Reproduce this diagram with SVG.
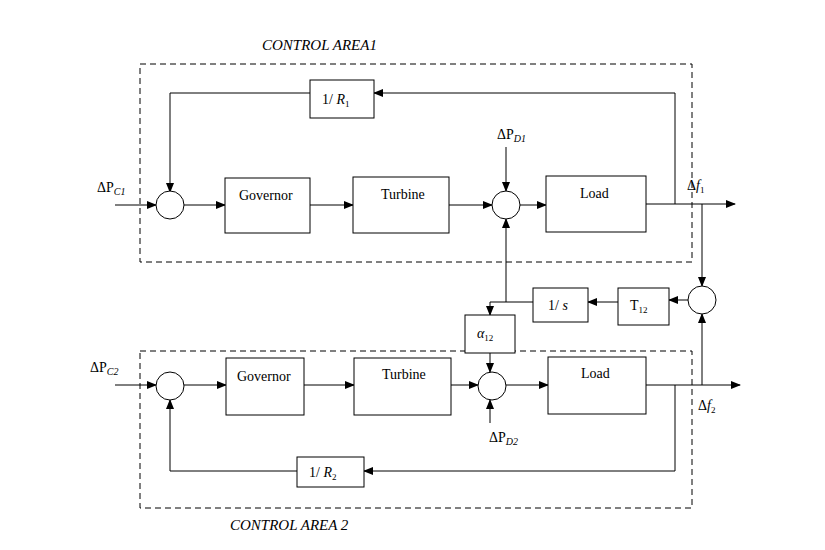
<svg xmlns="http://www.w3.org/2000/svg" width="825" height="550" viewBox="0 0 825 550">
<style>
.b{fill:#fff;stroke:#000;stroke-width:1}
.c{fill:#fff;stroke:#000;stroke-width:1}
.l{fill:none;stroke:#000;stroke-width:1;marker-end:url(#a)}
.d{fill:none;stroke:#000;stroke-width:1;stroke-dasharray:6,4}
text{font-family:"Liberation Serif",serif;font-size:14px;fill:#000}
.i{font-style:italic}
.t{font-size:15px}
</style>
<defs><marker id="a" markerWidth="10" markerHeight="8" refX="9" refY="4" orient="auto" markerUnits="userSpaceOnUse"><path d="M0,0L10,4L0,8z" fill="#000"/></marker></defs>
<rect class="d" x="140" y="64" width="552" height="198"/>
<rect class="d" x="140" y="351" width="552" height="157"/>
<text class="i t" x="262" y="50">CONTROL AREA1</text>
<text class="i t" x="230" y="530">CONTROL AREA 2</text>
<g id="connectors">
<path class="l" d="M115,205H156"/>
<path class="l" d="M184,205H225"/>
<path class="l" d="M310,205H353"/>
<path class="l" d="M449,205H492"/>
<path class="l" d="M520,205H546"/>
<path class="l" d="M646,204H735"/>
<path class="l" d="M675,204V93H374"/>
<path class="l" d="M310,93H170V192"/>
<path class="l" d="M506,147V191"/>
<path class="l" d="M702,204V286"/>
<path class="l" d="M688,300H669"/>
<path class="l" d="M618,302H588"/>
<path class="l" d="M506,302V219"/>
<path class="l" d="M533,302H490V315"/>
<path class="l" d="M490,353V372"/>
<path class="l" d="M115,385H156"/>
<path class="l" d="M184,385H226"/>
<path class="l" d="M304,385H354"/>
<path class="l" d="M451,385H478"/>
<path class="l" d="M506,385H548"/>
<path class="l" d="M646,385H740"/>
<path class="l" d="M675,385V471H364"/>
<path class="l" d="M297,471H170V400"/>
<path class="l" d="M490,423V400"/>
<path class="l" d="M702,385V314"/>
</g>
<g id="sum1"><circle class="c" cx="170" cy="205" r="14"/></g>
<g id="gov1"><rect class="b" x="225" y="178" width="85" height="55"/><text x="239" y="200">Governor</text></g>
<g id="tur1"><rect class="b" x="353" y="177" width="96" height="56"/><text x="381" y="199">Turbine</text></g>
<g id="sum2"><circle class="c" cx="506" cy="205" r="14"/></g>
<g id="load1"><rect class="b" x="546" y="176" width="100" height="56"/><text x="580" y="198">Load</text></g>
<g id="r1"><rect class="b" x="310" y="80" width="64" height="38"/><text x="322" y="104">1/ <tspan class="i">R</tspan><tspan font-size="9" dy="3">1</tspan></text></g>
<text x="497" y="139">ΔP<tspan class="i" font-size="10" dy="3">D1</tspan></text>
<text x="97" y="192">ΔP<tspan class="i" font-size="10" dy="3">C1</tspan></text>
<text x="687" y="190">Δ<tspan class="i">f</tspan><tspan font-size="9" dy="3">1</tspan></text>
<g id="sum3"><circle class="c" cx="702" cy="300" r="14"/></g>
<g id="t12"><rect class="b" x="618" y="288" width="51" height="37"/><text x="630" y="310">T<tspan font-size="9" dy="3">12</tspan></text></g>
<g id="integ"><rect class="b" x="533" y="288" width="55" height="34"/><text x="548" y="310">1/ <tspan class="i">s</tspan></text></g>
<g id="alpha"><rect class="b" x="465" y="315" width="50" height="38"/><text class="i" x="477" y="338">α<tspan font-size="9" font-style="normal" dy="3">12</tspan></text></g>
<g id="sum4"><circle class="c" cx="170" cy="386" r="14"/></g>
<g id="gov2"><rect class="b" x="226" y="358" width="78" height="57"/><text x="237" y="381">Governor</text></g>
<g id="tur2"><rect class="b" x="354" y="358" width="97" height="57"/><text x="382" y="379">Turbine</text></g>
<g id="sum5"><circle class="c" cx="492" cy="386" r="14"/></g>
<g id="load2"><rect class="b" x="548" y="357" width="98" height="57"/><text x="581" y="378">Load</text></g>
<g id="r2"><rect class="b" x="297" y="457" width="67" height="30"/><text x="309" y="477">1/ <tspan class="i">R</tspan><tspan font-size="9" dy="3">2</tspan></text></g>
<text x="489" y="442">ΔP<tspan class="i" font-size="10" dy="3">D2</tspan></text>
<text x="90" y="372">ΔP<tspan class="i" font-size="10" dy="3">C2</tspan></text>
<text x="698" y="410">Δ<tspan class="i">f</tspan><tspan font-size="9" dy="3">2</tspan></text>
</svg>
